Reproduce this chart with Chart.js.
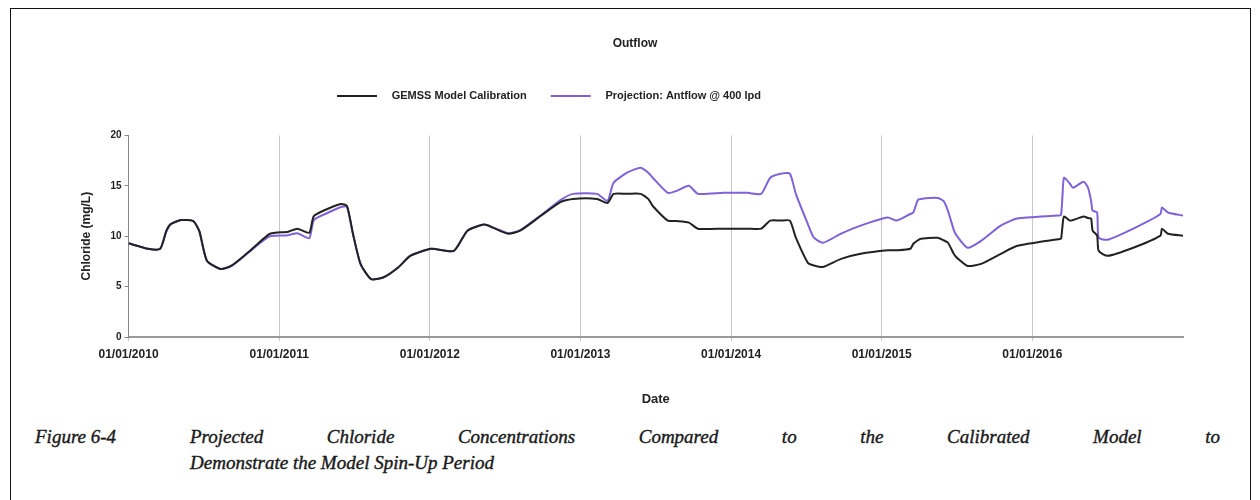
<!DOCTYPE html>
<html>
<head>
<meta charset="utf-8">
<script src="https://cdn.jsdelivr.net/npm/chart.js@4.4.1/dist/chart.umd.min.js"></script>
<style>
  body { margin: 0; background: #fff; }
  #page { position: relative; width: 1260px; height: 500px; overflow: hidden; }
  #frame { position: absolute; left: 10px; top: 8px; width: 1239px; height: 520px; border: 1px solid #111; }
  #chart-box { position: absolute; left: 0; top: 0; width: 1260px; height: 420px; }
  .cap { position: absolute; font-family: "Liberation Serif", serif; font-style: italic; font-size: 19px; line-height: 26px; color: #1a1a1a; -webkit-text-stroke: 0.4px #1a1a1a; }
  #fig-no { left: 35px; top: 424px; }
  #fig-line1 { left: 190px; top: 424px; width: 1030px; text-align: justify; text-align-last: justify; }
  #fig-line2 { left: 190px; top: 450px; }
</style>
</head>
<body>
<div id="page">
  <div id="frame"></div>
  <div id="chart-box"><canvas id="outflow-chart"></canvas></div>
  <div class="cap" id="fig-no">Figure 6-4</div>
  <div class="cap" id="fig-line1">Projected Chloride Concentrations Compared to the Calibrated Model to</div>
  <div class="cap" id="fig-line2">Demonstrate the Model Spin-Up Period</div>
</div>
<script>
// dates as decimal years
const dates = [
  2010.00, 2010.13, 2010.21, 2010.25, 2010.28, 2010.35, 2010.43, 2010.47, 2010.52, 2010.61,
  2010.68, 2010.79, 2010.88, 2010.94, 2011.06, 2011.12, 2011.20, 2011.23, 2011.32, 2011.41,
  2011.45, 2011.49, 2011.54, 2011.61, 2011.69, 2011.79, 2011.87, 2012.01, 2012.16, 2012.25,
  2012.36, 2012.42, 2012.52, 2012.60, 2012.74, 2012.87, 2012.95, 2013.11, 2013.18, 2013.22,
  2013.31, 2013.40, 2013.45, 2013.48, 2013.58, 2013.64, 2013.72, 2013.78, 2013.95, 2014.11,
  2014.20, 2014.26, 2014.33, 2014.39, 2014.43, 2014.51, 2014.55, 2014.61, 2014.73, 2014.86,
  2015.04, 2015.10, 2015.19, 2015.21, 2015.24, 2015.26, 2015.37, 2015.41, 2015.44, 2015.48,
  2015.50, 2015.57, 2015.66, 2015.79, 2015.90, 2016.17, 2016.19, 2016.20, 2016.21, 2016.25,
  2016.27, 2016.34, 2016.37, 2016.39, 2016.40, 2016.43, 2016.44, 2016.50, 2016.67, 2016.85,
  2016.86, 2016.90, 2017.00
];

const calibration = [
  9.3, 8.75, 8.75, 10.5, 11.2, 11.6, 11.5, 10.5, 7.6, 6.75,
  7.05, 8.35, 9.55, 10.25, 10.45, 10.75, 10.35, 12.0, 12.7, 13.2,
  13.0, 10.25, 7.25, 5.75, 5.9, 6.9, 8.05, 8.75, 8.55, 10.55,
  11.15, 10.85, 10.25, 10.55, 12.05, 13.4, 13.7, 13.7, 13.3, 14.2,
  14.2, 14.2, 13.7, 13.0, 11.55, 11.5, 11.35, 10.75, 10.75, 10.75,
  10.75, 11.55, 11.55, 11.55, 9.85, 7.35, 7.1, 6.95, 7.75, 8.25,
  8.6, 8.6, 8.75, 9.25, 9.6, 9.75, 9.85, 9.6, 9.35, 8.2,
  7.85, 7.05, 7.25, 8.25, 9.05, 9.7, 9.75, 11.0, 11.95, 11.55,
  11.6, 11.95, 11.8, 11.75, 10.55, 10.05, 8.55, 8.05, 8.85, 10.05,
  10.75, 10.25, 10.05
];

const projection = [
  9.3, 8.75, 8.75, 10.4, 11.2, 11.6, 11.5, 10.5, 7.55, 6.75,
  7.0, 8.3, 9.4, 10.0, 10.1, 10.3, 9.8, 11.6, 12.3, 12.9,
  12.9, 10.2, 7.25, 5.75, 5.9, 6.9, 8.05, 8.75, 8.55, 10.55,
  11.15, 10.85, 10.3, 10.6, 12.1, 13.6, 14.2, 14.2, 13.5, 15.3,
  16.3, 16.8, 16.3, 15.8, 14.3, 14.5, 15.0, 14.2, 14.3, 14.3,
  14.2, 15.8, 16.2, 16.2, 14.2, 11.2, 9.85, 9.35, 10.25, 11.05,
  11.85, 11.55, 12.2, 12.35, 13.6, 13.7, 13.8, 13.5, 12.5, 10.55,
  10.0, 8.85, 9.55, 11.05, 11.75, 12.05, 12.1, 14.0, 15.8, 15.2,
  14.8, 15.4, 14.8, 13.5, 12.55, 12.35, 9.85, 9.65, 10.75, 12.2,
  12.85, 12.35, 12.05
];

const yTicks = [0, 5, 10, 15, 20];
const firstYear = 2010;
const lastYear = 2017;

const fontFamily = "'Liberation Sans', Arial, sans-serif";
Chart.defaults.font.family = fontFamily;
Chart.defaults.color = '#222';

function toPoints(values) {
  return values.map((v, i) => ({ x: dates[i], y: v }));
}

// extra room under the legend, and legend/title nudged like the original figure
const legendGap = {
  id: 'legendGap',
  beforeInit(chart) {
    const fit = chart.legend.fit;
    chart.legend.fit = function () {
      fit.bind(chart.legend)();
      this.height += 24;
    };
  },
  afterLayout(chart) {
    chart.legend.left -= 80;
    chart.legend.right -= 80;
    chart.titleBlock.left += 6;
    chart.titleBlock.right += 6;
  }
};

const ctx = document.getElementById('outflow-chart').getContext('2d');
new Chart(ctx, {
  type: 'line',
  data: {
    datasets: [{
      label: 'GEMSS Model Calibration',
      data: toPoints(calibration),
      borderColor: '#222222',
      backgroundColor: '#222222',
      borderWidth: 2,
      pointRadius: 0,
      tension: 0.2
    }, {
      label: 'Projection: Antflow @ 400 lpd',
      data: toPoints(projection),
      borderColor: '#7d62d8',
      backgroundColor: '#7d62d8',
      borderWidth: 2,
      pointRadius: 0,
      tension: 0.2
    }]
  },
  options: {
    responsive: true,
    maintainAspectRatio: false,
    animation: false,
    layout: {
      padding: { left: 75, right: 77, top: 36, bottom: 9 }
    },
    plugins: {
      title: {
        display: true,
        text: 'Outflow',
        font: { size: 12, weight: 'bold' },
        padding: { top: 0, bottom: 16 }
      },
      legend: {
        position: 'top',
        labels: {
          usePointStyle: true,
          pointStyle: 'line',
          pointStyleWidth: 40,
          padding: 24,
          font: { size: 11, weight: 'bold' },
          generateLabels: (chart) => {
            const items = Chart.defaults.plugins.legend.labels.generateLabels(chart);
            items.forEach(item => { item.text = '   ' + item.text; });
            return items;
          }
        }
      },
      tooltip: { enabled: false }
    },
    scales: {
      x: {
        type: 'linear',
        min: firstYear,
        max: lastYear,
        ticks: {
          stepSize: 1,
          maxRotation: 0,
          padding: 6,
          font: { size: 12, weight: 'bold' },
          callback: (value) => value === lastYear ? null : `01/01/${value}`
        },
        grid: {
          color: 'rgba(0, 0, 0, 0.22)',
          tickLength: 4
        },
        border: { color: '#999', width: 2 },
        title: {
          display: true,
          text: 'Date',
          font: { size: 13, weight: 'bold' },
          padding: { top: 24 }
        }
      },
      y: {
        min: yTicks[0],
        max: yTicks[yTicks.length - 1],
        afterBuildTicks: (axis) => {
          axis.ticks = yTicks.map(v => ({ value: v }));
        },
        ticks: {
          font: { size: 10, weight: 'bold' }
        },
        grid: {
          drawOnChartArea: false,
          tickLength: 4,
          color: '#888'
        },
        border: { color: '#888', width: 1 },
        title: {
          display: true,
          text: 'Chloride (mg/L)',
          font: { size: 12, weight: 'bold' },
          padding: { bottom: 14 }
        }
      }
    }
  },
  plugins: [legendGap]
});
</script>
</body>
</html>
